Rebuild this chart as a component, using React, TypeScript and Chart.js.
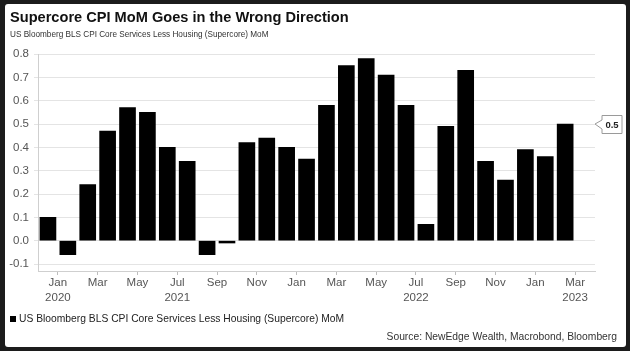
import React, { useEffect, useRef } from "react";
import { Chart, registerables } from "chart.js";

Chart.register(...registerables);

const TITLE = "Supercore CPI MoM Goes in the Wrong Direction";
const SUBTITLE = "US Bloomberg BLS CPI Core Services Less Housing (Supercore) MoM";
const SERIES_NAME = "US Bloomberg BLS CPI Core Services Less Housing (Supercore) MoM";
const SOURCE = "Source: NewEdge Wealth, Macrobond, Bloomberg";

const values = [
  0.10, -0.06, 0.24, 0.47, 0.57, 0.55, 0.40, 0.34, -0.06, -0.01,
  0.42, 0.44, 0.40, 0.35, 0.58, 0.75, 0.78, 0.71, 0.58, 0.07,
  0.49, 0.73, 0.34, 0.26, 0.39, 0.36, 0.50,
];

const monthLabels = ["Jan", "Mar", "May", "Jul", "Sep", "Nov", "Jan", "Mar", "May", "Jul", "Sep", "Nov", "Jan", "Mar"];
const yearLabels = ["2020", "", "", "2021", "", "", "", "", "", "2022", "", "", "", "2023"];
const yTicks = [-0.1, 0, 0.1, 0.2, 0.3, 0.4, 0.5, 0.6, 0.7, 0.8];

const FONT = "'Liberation Sans', Arial, Helvetica, sans-serif";

const decorPlugin = {
  id: "decor",
  beforeDraw(chart: any) {
    const ctx = chart.ctx;
    ctx.save();
    ctx.fillStyle = "#1c1c1c";
    ctx.fillRect(0, 0, chart.width, chart.height);
    ctx.fillStyle = "#ffffff";
    ctx.beginPath();
    (ctx as any).roundRect ? (ctx as any).roundRect(5, 4, 621, 343, 3) : ctx.rect(5, 4, 621, 343);
    ctx.fill();
    ctx.restore();
  },
  afterDraw(chart: any) {
    const ctx = chart.ctx;
    const area = chart.chartArea;
    const yScale = chart.scales.y;
    ctx.save();
    ctx.textBaseline = "middle";
    // title
    ctx.fillStyle = "#111111";
    ctx.font = `bold 14.6px ${FONT}`;
    ctx.textAlign = "left";
    ctx.fillText(TITLE, 10, 18);
    // subtitle
    ctx.fillStyle = "#333333";
    ctx.font = `8.2px ${FONT}`;
    ctx.fillText(SUBTITLE, 10, 34.5);
    // legend
    ctx.fillStyle = "#000000";
    ctx.fillRect(10, 316, 6, 6);
    ctx.fillStyle = "#222222";
    ctx.font = `10.3px ${FONT}`;
    ctx.fillText(SERIES_NAME, 19, 319.5);
    // source
    ctx.textAlign = "right";
    ctx.fillStyle = "#333333";
    ctx.fillText(SOURCE, 617, 337);
    // last value annotation
    const last = values[values.length - 1];
    const py = yScale.getPixelForValue(last);
    const tipX = area.right;
    const bl = tipX + 7, br = tipX + 27, bt = py - 8.5, bb = py + 9.5;
    ctx.beginPath();
    ctx.moveTo(bl, bt);
    ctx.lineTo(br, bt);
    ctx.lineTo(br, bb);
    ctx.lineTo(bl, bb);
    ctx.lineTo(bl, py + 5);
    ctx.lineTo(tipX, py);
    ctx.lineTo(bl, py - 4);
    ctx.closePath();
    ctx.fillStyle = "#ffffff";
    ctx.fill();
    ctx.strokeStyle = "#9a9a9a";
    ctx.lineWidth = 1;
    ctx.stroke();
    ctx.fillStyle = "#222222";
    ctx.font = `bold 9.5px ${FONT}`;
    ctx.textAlign = "center";
    ctx.fillText(last.toFixed(1), (bl + br) / 2, py + 1);
    ctx.restore();
  },
};

export default function App() {
  const ref = useRef<HTMLCanvasElement | null>(null);

  useEffect(() => {
    document.body.style.margin = "0";
    const canvas = ref.current;
    if (!canvas) return;
    const chart = new Chart(canvas, {
      type: "bar",
      data: {
        datasets: [
          {
            label: SERIES_NAME,
            data: values.map((v, i) => ({ x: i, y: v })),
            backgroundColor: "#000000",
            borderWidth: 0,
            barThickness: 16,
          },
        ],
      },
      options: {
        responsive: false,
        animation: false,
        events: [],
        layout: { padding: { left: 0, top: 54, right: 35, bottom: 40 } },
        plugins: {
          legend: { display: false },
          tooltip: { enabled: false },
          title: { display: false },
        },
        scales: {
          x: {
            type: "linear",
            offset: false,
            min: -0.5,
            max: values.length + 0.5,
            afterBuildTicks: (scale: any) => {
              scale.ticks = monthLabels.map((_, i) => ({ value: 0.5 + 2 * i }));
            },
            afterFit: (scale: any) => {
              scale.height = 40;
            },
            grid: {
              offset: false,
              drawOnChartArea: false,
              drawTicks: true,
              tickLength: 4,
              color: "#bdbdbd",
            },
            border: { display: true, color: "#cfcfcf" },
            ticks: {
              autoSkip: false,
              maxRotation: 0,
              padding: 0,
              color: "#555555",
              font: { family: FONT, size: 11.5, lineHeight: 1.35 },
              callback: (_v: any, i: number) =>
                yearLabels[i] ? [monthLabels[i], yearLabels[i]] : monthLabels[i],
            },
          },
          y: {
            type: "linear",
            min: -0.13,
            max: 0.8,
            afterBuildTicks: (scale: any) => {
              scale.ticks = yTicks.map((v) => ({ value: v }));
            },
            afterFit: (scale: any) => {
              scale.width = 38;
            },
            grid: {
              color: "#e4e4e4",
              tickLength: 4,
            },
            border: { display: true, color: "#cfcfcf" },
            ticks: {
              padding: 5,
              color: "#555555",
              font: { family: FONT, size: 11.5 },
              callback: (v: any) => Number(v).toFixed(1),
            },
          },
        },
      },
      plugins: [decorPlugin],
    } as any);
    return () => chart.destroy();
  }, []);

  return (
    <div style={{ position: "fixed", left: 0, top: 0, width: 630, height: 351 }}>
      <canvas ref={ref} width={630} height={351} style={{ display: "block" }} />
    </div>
  );
}
